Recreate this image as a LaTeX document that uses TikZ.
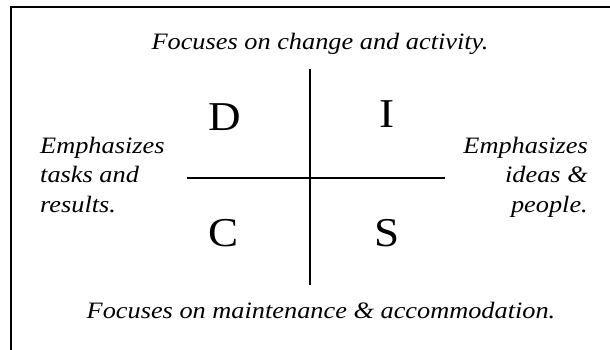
\documentclass[tikz,border=0pt]{standalone}
\usepackage{fontspec}
\setmainfont{Liberation Serif}
\usetikzlibrary{positioning}

\begin{document}
\begin{tikzpicture}[x=1pt,y=-1pt,
    letter/.style={font=\fontsize{41}{41}\selectfont, inner sep=0pt, anchor=base, xscale=1.1},
    remark/.style={font=\fontsize{23.5}{29.5}\selectfont\itshape, inner sep=0pt, xscale=1.12}]
    \useasboundingbox (0,0) rectangle (610,349);
    \clip (0,0) rectangle (610,349);
    % outer frame, cut off at the right and bottom
    \draw[line width=2pt] (11,7) rectangle (640,380);

    % the cross
    \coordinate (top) at (310,69);
    \coordinate (bottom) at (310,285);
    \coordinate (left) at (187,178);
    \coordinate (right) at (445,178);
    \draw[line width=1.5pt] (top) -- (bottom);
    \draw[line width=1.5pt] (left) -- (right);

    % the four styles
    \node[letter] (D) at (225,130) {D};
    \node[letter] (I) at (387,127) {I};
    \node[letter] (C) at (224,246) {C};
    \node[letter] (S) at (387,246) {S};

    % what each side stands for
    \node[remark, anchor=base] (change) at (320,49) {Focuses on change and activity.};
    \node[remark, anchor=base] (upkeep) at (321,318) {Focuses on maintenance \& accommodation.};
    \node[remark, align=left, anchor=base west] (tasks) at (40,212) {Emphasizes\\tasks and\\results.};
    \node[remark, align=right, anchor=base east] (ideas) at (588,212) {Emphasizes\\ideas \&\\people.};
\end{tikzpicture}
\end{document}
